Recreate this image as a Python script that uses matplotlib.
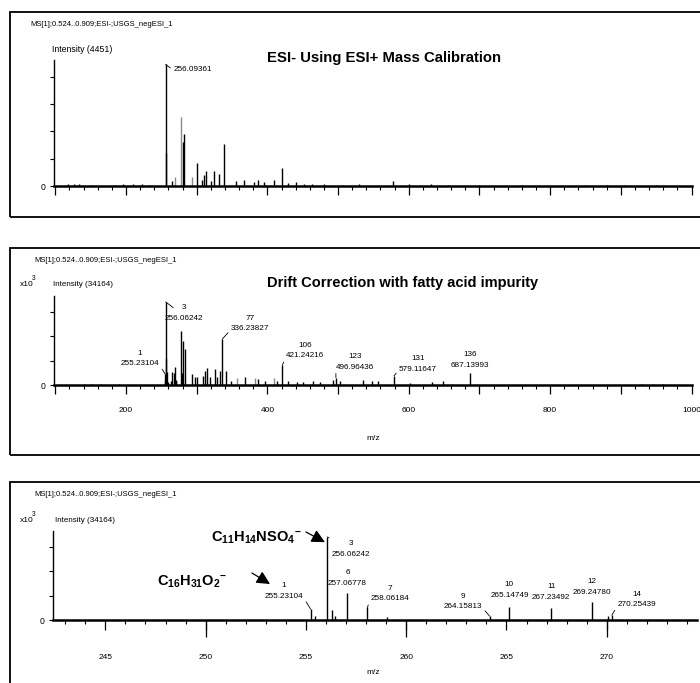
import numpy as np
import matplotlib
matplotlib.use('Agg')
import matplotlib.pyplot as plt
from matplotlib.patches import Rectangle
from matplotlib.ticker import MultipleLocator, FuncFormatter

plt.rcParams['font.family'] = ['Liberation Sans', 'DejaVu Sans']
plt.rcParams['mathtext.fontset'] = 'custom'
plt.rcParams['mathtext.rm'] = 'Liberation Sans:bold'
plt.rcParams['mathtext.it'] = 'Liberation Sans:bold'
plt.rcParams['mathtext.bf'] = 'Liberation Sans:bold'
plt.rcParams['mathtext.default'] = 'bf'

# top panel: ESI- spectrum with ESI+ mass calibration
raw_mz = [118, 126, 133, 150, 185, 196, 210, 222, 232, 256.09361, 257.09, 265.1,
          269.3, 277.4, 281.1, 282.5, 292.9, 300.0, 307.1, 310.8, 313.2, 320.2,
          324.5, 331.6, 339.1, 355.2, 367.3, 381.5, 386.3, 395.2, 408.9, 421.1,
          429.2, 440.1, 451.8, 462.7, 480, 505, 530, 577, 600, 632, 655, 700,
          760, 850, 880, 905, 950]
raw_int = [60, 80, 60, 40, 50, 60, 70, 60, 50, 4451, 1220, 200,
           340, 2530, 1610, 1900, 340, 830, 230, 420, 540, 200,
           540, 430, 1530, 190, 230, 160, 210, 130, 210, 650,
           100, 130, 80, 90, 60, 50, 60, 170, 60, 60, 40, 40,
           40, 50, 50, 50, 40]
raw_grey = [277.4, 269.3, 292.9]
raw_base = 256.09361

# drift corrected spectrum (middle + bottom panels)
cor_mz = [140, 150, 165, 190, 255.23104, 255.45, 256.06242, 256.3, 256.45,
          257.06778, 258.06184, 259.02, 264.15813, 265.14749, 267.23492,
          269.24780, 270.08, 270.25439, 277.22, 279.2, 281.25, 283.26, 293.8,
          297.6, 300.9, 308.5, 311.8, 315.0, 318.8, 325.9, 329.2, 333.0,
          336.23827, 341.5, 348.1, 356.6, 368.3, 382.5, 387.2, 396.6, 409.4,
          413.2, 421.24216, 429.6, 441.5, 450.8, 464.1, 474.4, 492.8,
          496.96436, 502.7, 535.7, 548, 556.5, 579.11647, 601.8, 632.5, 648.4,
          661, 687.13993, 930, 945, 960]
cor_int = [300, 400, 300, 300, 4500, 1800, 34164, 4100, 1600,
           11200, 5200, 1400, 1600, 5500, 5100,
           7500, 1500, 2000, 22300, 5000, 18000, 15000, 4500,
           3300, 3300, 3600, 5800, 6800, 3300, 6500, 3300, 5800,
           18900, 5800, 1800, 2700, 3300, 2700, 2400, 1800, 3000,
           1800, 8200, 1800, 1400, 1400, 1800, 1200, 2000,
           3000, 1500, 2000, 1500, 1500, 3800, 1000, 1200, 1500,
           500, 4800, 300, 300, 300]
cor_grey = [409.4, 356.6, 382.5]

mid_no = [1, 3, 77, 106, 123, 131, 136]
mid_mz = [255.23104, 256.06242, 336.23827, 421.24216, 496.96436, 579.11647, 687.13993]
low_no = [1, 3, 6, 7, 9, 10, 11, 12, 14]
low_mz = [255.23104, 256.06242, 257.06778, 258.06184, 264.15813, 265.14749,
          267.23492, 269.24780, 270.25439]

ms_line = 'MS[1];0.524..0.909;ESI-;USGS_negESI_1'

W, H = 700, 683
fig = plt.figure(figsize=(7, 6.83), dpi=100)

SMALL = 5.9


def box(l, t, r, b):
    return [l / W, 1 - b / H, (r - l) / W, (b - t) / H]


def ftext(x, y, s, **kw):
    fig.text(x / W, 1 - y / H, s, **kw)


# panel frames (open on the right, like the scanned print)
for t, b in [(12, 217), (248, 455), (482, 720)]:
    fig.add_artist(Rectangle((10 / W, 1 - b / H), 1.2, (b - t) / H,
                             transform=fig.transFigure, fill=False,
                             lw=1.3, ec='black'))


def setup(ax, ytop, ystep, xlim, major, minor, maj_len, lab_pad, show_lab):
    ax.set_xlim(*xlim)
    ax.set_ylim(0, ytop)
    for s in ('top', 'right'):
        ax.spines[s].set_visible(False)
    ax.spines['bottom'].set_linewidth(1.8)
    ax.spines['left'].set_linewidth(1.0)
    ax.xaxis.set_major_locator(MultipleLocator(major))
    ax.xaxis.set_minor_locator(MultipleLocator(minor))
    ax.yaxis.set_major_locator(MultipleLocator(ystep))
    ax.yaxis.set_major_formatter(FuncFormatter(lambda v, p: '0' if v == 0 else ''))
    ax.tick_params(axis='x', which='major', length=maj_len, width=0.9,
                   pad=lab_pad, labelsize=6, labelbottom=show_lab)
    ax.tick_params(axis='x', which='minor', length=3.2, width=0.8)
    ax.tick_params(axis='y', length=3, width=0.8, pad=3, labelsize=6.2)
    ax.patch.set_alpha(0)


def sticks(ax, mz, inten, grey):
    cols = ['#8a8a8a' if m in grey else 'black' for m in mz]
    ax.vlines(mz, 0, inten, colors=cols, lw=1.0)


def tag(ax, mz, inten, num, dx, dy, side):
    if side == 'up':
        ap = None
    else:
        rel = {'left': (1, 0.15), 'right': (0, 0.15), 'down': (0.22, 0.8)}[side]
        ap = dict(arrowstyle='-', lw=0.6, color='black', shrinkA=0, shrinkB=0,
                  relpos=rel)
    ax.annotate(f'{num}\n{mz:.5f}', xy=(mz, inten), xytext=(dx, dy),
                textcoords='offset pixels', ha='center', va='center',
                fontsize=SMALL, linespacing=1.7, arrowprops=ap)


# ---------------- panel 1
ax1 = fig.add_axes(box(54, 60, 691.5, 186))
setup(ax1, 4615, 1000, (98.1, 1000), 100, 20, 6.5, 3, False)
sticks(ax1, raw_mz, raw_int, raw_grey)
ax1.annotate(f'{raw_base:.5f}', xy=(raw_base, raw_int[raw_mz.index(raw_base)]),
             xytext=(7.5, -5.5), textcoords='offset pixels', ha='left',
             va='center', fontsize=SMALL,
             arrowprops=dict(arrowstyle='-', lw=0.6, shrinkA=0, shrinkB=0,
                             relpos=(0, 0.5)))
ftext(30, 25, ms_line, fontsize=5.5, va='center')
ftext(52, 50, 'Intensity (4451)', fontsize=6.3, va='center')
ftext(384, 58, 'ESI- Using ESI+ Mass Calibration', fontsize=10.7,
      fontweight='bold', ha='center', va='center')

# ---------------- panel 2
ax2 = fig.add_axes(box(54, 296, 691.5, 385))
setup(ax2, 36600, 10000, (98.1, 1000), 100, 20, 6.5, 9.3, True)
ax2.xaxis.set_major_formatter(FuncFormatter(
    lambda v, p: f'{v:.0f}' if round(v) % 200 == 0 else ''))
sticks(ax2, cor_mz, cor_int, cor_grey)
mid_off = {1: (-25, 15.6, 'left'), 3: (18.4, -11, 'down'), 77: (27.7, 15.5, 'right'),
           106: (22.6, 14.5, 'right'), 123: (19, 15.7, 'right'),
           131: (24, 12, 'right'), 136: (0, 13.3, 'up')}
for n, m in zip(mid_no, mid_mz):
    dx, dy, side = mid_off[n]
    tag(ax2, m, cor_int[cor_mz.index(m)], n, dx, dy, side)
ftext(34, 260, ms_line, fontsize=5.5, va='center')
ftext(20, 285, 'x10', fontsize=6, va='center')
ftext(31.5, 279, '3', fontsize=4.8, va='center')
ftext(53, 285, 'Intensity (34164)', fontsize=5.8, va='center')
ftext(403, 283, 'Drift Correction with fatty acid impurity', fontsize=10.5,
      fontweight='bold', ha='center', va='center')
ftext(373, 438, 'm/z', fontsize=6, ha='center', va='center')

# ---------------- panel 3
ax3 = fig.add_axes(box(53, 531, 697, 620))
setup(ax3, 36600, 10000, (242.39, 274.5), 5, 1, 7.5, 17.3, True)
sec = ax3.secondary_xaxis('bottom')
sec.set_xticks([250, 260, 270])
sec.tick_params(length=12, width=0.9, labelbottom=False)
sec.spines['bottom'].set_visible(False)
sticks(ax3, cor_mz, cor_int, [])
low_off = {1: (-26.5, 18, 'left'), 3: (23.8, -12, 'down'), 6: (0, 14.8, 'up'),
           7: (22.7, 13.9, 'right'), 9: (-26.6, 14.6, 'left'), 10: (0, 16.6, 'up'),
           11: (0, 15.6, 'up'), 12: (0, 14.8, 'up'), 14: (25, 15.6, 'right')}
for n, m in zip(low_no, low_mz):
    dx, dy, side = low_off[n]
    tag(ax3, m, cor_int[cor_mz.index(m)], n, dx, dy, side)

ax3.text(252.51, 33740, r'C$_{11}$H$_{14}$NSO$_4$$^{-}$', fontsize=10.5,
         fontweight='bold', ha='center', va='center')
ax3.text(249.32, 15640, r'C$_{16}$H$_{31}$O$_2$$^{-}$', fontsize=10.5,
         fontweight='bold', ha='center', va='center')
head = dict(arrowstyle='-|>,head_length=0.8,head_width=0.4', lw=0.9,
            color='black', shrinkA=0, shrinkB=0)
ax3.annotate('', xy=(255.95, 32000), xytext=(255.0, 36200), arrowprops=head,
             annotation_clip=False)
ax3.annotate('', xy=(253.21, 14800), xytext=(252.31, 19340), arrowprops=head)

ftext(34, 494, ms_line, fontsize=5.5, va='center')
ftext(20, 521, 'x10', fontsize=6, va='center')
ftext(31.5, 515, '3', fontsize=4.8, va='center')
ftext(55, 521, 'Intensity (34164)', fontsize=5.8, va='center')
ftext(373, 673, 'm/z', fontsize=6, ha='center', va='center')

fig.savefig('out.png', dpi=100)
